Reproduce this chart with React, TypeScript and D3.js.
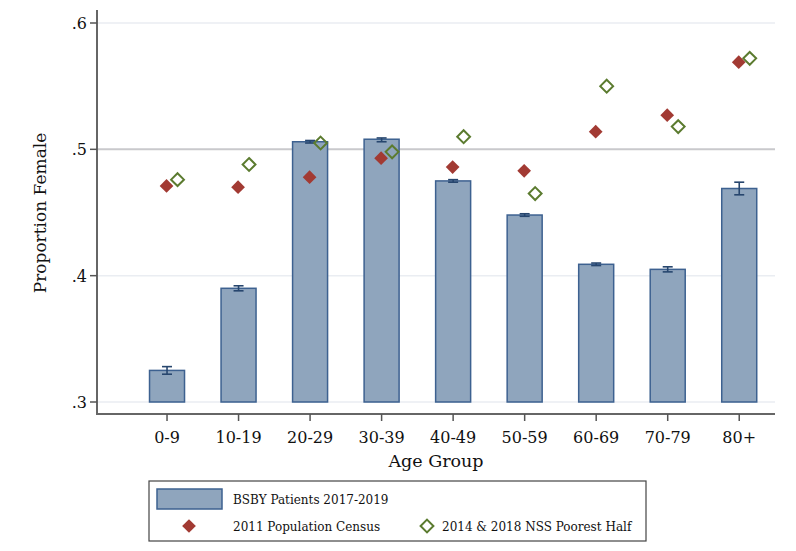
import * as d3 from 'd3';

// Age groups and values
const ageGroups = ['0-9', '10-19', '20-29', '30-39', '40-49', '50-59', '60-69', '70-79', '80+'];
const bsbyShare = [0.325, 0.390, 0.506, 0.508, 0.475, 0.448, 0.409, 0.405, 0.469];
const bsbyLow = [0.322, 0.388, 0.505, 0.506, 0.474, 0.447, 0.408, 0.403, 0.464];
const bsbyHigh = [0.328, 0.392, 0.507, 0.509, 0.476, 0.449, 0.410, 0.407, 0.474];
const censusShare = [0.471, 0.470, 0.478, 0.493, 0.486, 0.483, 0.514, 0.527, 0.569];
const nssShare = [0.476, 0.488, 0.505, 0.498, 0.510, 0.465, 0.550, 0.518, 0.572];
const yTicks = [0.3, 0.4, 0.5, 0.6];

const W = 796;
const H = 551;
const FONT = '"DejaVu Serif", serif';
const BAR_FILL = '#8fa5bd';
const BAR_STROKE = '#3d6190';
const ERR = '#27466e';
const RED = '#a23a33';
const GREEN = '#5b7b2f';

const plot = { left: 97, right: 775, top: 15, bottom: 414 };

export default function App() {
  const x = d3.scaleLinear().domain([0, 9.5]).range([95.5, 775]);
  const y = d3.scaleLinear().domain([0.3, 0.6]).range([402, 23]);
  const barW = 35;
  const diamond = d3.symbol().type(d3.symbolDiamond2).size(120)();
  const diamondHollow = d3.symbol().type(d3.symbolDiamond2).size(105)();

  return (
    <svg width={W} height={H} style={{ position: 'absolute', left: 0, top: 0, background: '#fff' }}>
      <rect x={0} y={0} width={W} height={H} fill="#fff" />
      {/* grid lines */}
      {yTicks.filter((t) => t !== 0.5).map((t) => (
        <line key={t} x1={plot.left} x2={plot.right} y1={y(t)} y2={y(t)} stroke="#eaedf2" strokeWidth={1.5} />
      ))}
      <line x1={plot.left} x2={plot.right} y1={y(0.5)} y2={y(0.5)} stroke="#c9c9cc" strokeWidth={2} />

      {/* bars */}
      {ageGroups.map((g, i) => (
        <rect
          key={g}
          x={x(i + 1) - barW / 2}
          y={y(bsbyShare[i])}
          width={barW}
          height={y(0.3) - y(bsbyShare[i])}
          fill={BAR_FILL}
          stroke={BAR_STROKE}
          strokeWidth={1.5}
        />
      ))}
      {/* error bars */}
      {ageGroups.map((g, i) => {
        const cx = x(i + 1);
        return (
          <g key={g} stroke={ERR} strokeWidth={1.6}>
            <line x1={cx} x2={cx} y1={y(bsbyLow[i])} y2={y(bsbyHigh[i])} />
            <line x1={cx - 5} x2={cx + 5} y1={y(bsbyLow[i])} y2={y(bsbyLow[i])} />
            <line x1={cx - 5} x2={cx + 5} y1={y(bsbyHigh[i])} y2={y(bsbyHigh[i])} />
          </g>
        );
      })}

      {/* census markers */}
      {ageGroups.map((g, i) => (
        <path key={g} d={diamond} transform={`translate(${x(i + 1) - 0.5},${y(censusShare[i])})`} fill={RED} />
      ))}
      {/* NSS markers */}
      {ageGroups.map((g, i) => (
        <path
          key={g}
          d={diamondHollow}
          transform={`translate(${x(i + 1) + 10.5},${y(nssShare[i])})`}
          fill="none"
          stroke={GREEN}
          strokeWidth={2}
        />
      ))}

      {/* axes */}
      <line x1={plot.left} x2={plot.left} y1={10} y2={plot.bottom + 1} stroke="#666" strokeWidth={2} />
      <line x1={plot.left - 1} x2={plot.right} y1={plot.bottom} y2={plot.bottom} stroke="#666" strokeWidth={2} />
      {yTicks.map((t) => (
        <g key={t}>
          <line x1={plot.left - 7} x2={plot.left} y1={y(t)} y2={y(t)} stroke="#555" strokeWidth={1.5} />
          <text x={plot.left - 10} y={y(t) + 6} textAnchor="end" fontFamily={FONT} fontSize={16} fill="#111">
            {d3.format('.1f')(t).replace(/^0/, '')}
          </text>
        </g>
      ))}
      {ageGroups.map((g, i) => (
        <g key={g}>
          <line x1={x(i + 1)} x2={x(i + 1)} y1={plot.bottom} y2={plot.bottom + 7} stroke="#555" strokeWidth={1.5} />
          <text x={x(i + 1)} y={plot.bottom + 29} textAnchor="middle" fontFamily={FONT} fontSize={16} fill="#111">
            {g}
          </text>
        </g>
      ))}
      <text x={436} y={467} textAnchor="middle" fontFamily={FONT} fontSize={17.5} fill="#111">
        Age Group
      </text>
      <text
        transform="translate(46,213) rotate(-90)"
        textAnchor="middle"
        fontFamily={FONT}
        fontSize={17}
        fill="#111"
      >
        Proportion Female
      </text>

      {/* legend */}
      <rect x={149} y={481} width={497} height={60} fill="#fff" stroke="#444" strokeWidth={1.2} />
      <rect x={157} y={489} width={65} height={20} fill={BAR_FILL} stroke={BAR_STROKE} strokeWidth={1.5} />
      <text x={233} y={504} fontFamily={FONT} fontSize={12} fill="#111">
        BSBY Patients 2017-2019
      </text>
      <path d={diamond} transform="translate(189,526)" fill={RED} />
      <text x={233} y={531} fontFamily={FONT} fontSize={12} fill="#111">
        2011 Population Census
      </text>
      <path d={diamondHollow} transform="translate(427,526)" fill="none" stroke={GREEN} strokeWidth={2} />
      <text x={442} y={531} fontFamily={FONT} fontSize={12} fill="#111">
        2014 &amp; 2018 NSS Poorest Half
      </text>
    </svg>
  );
}
